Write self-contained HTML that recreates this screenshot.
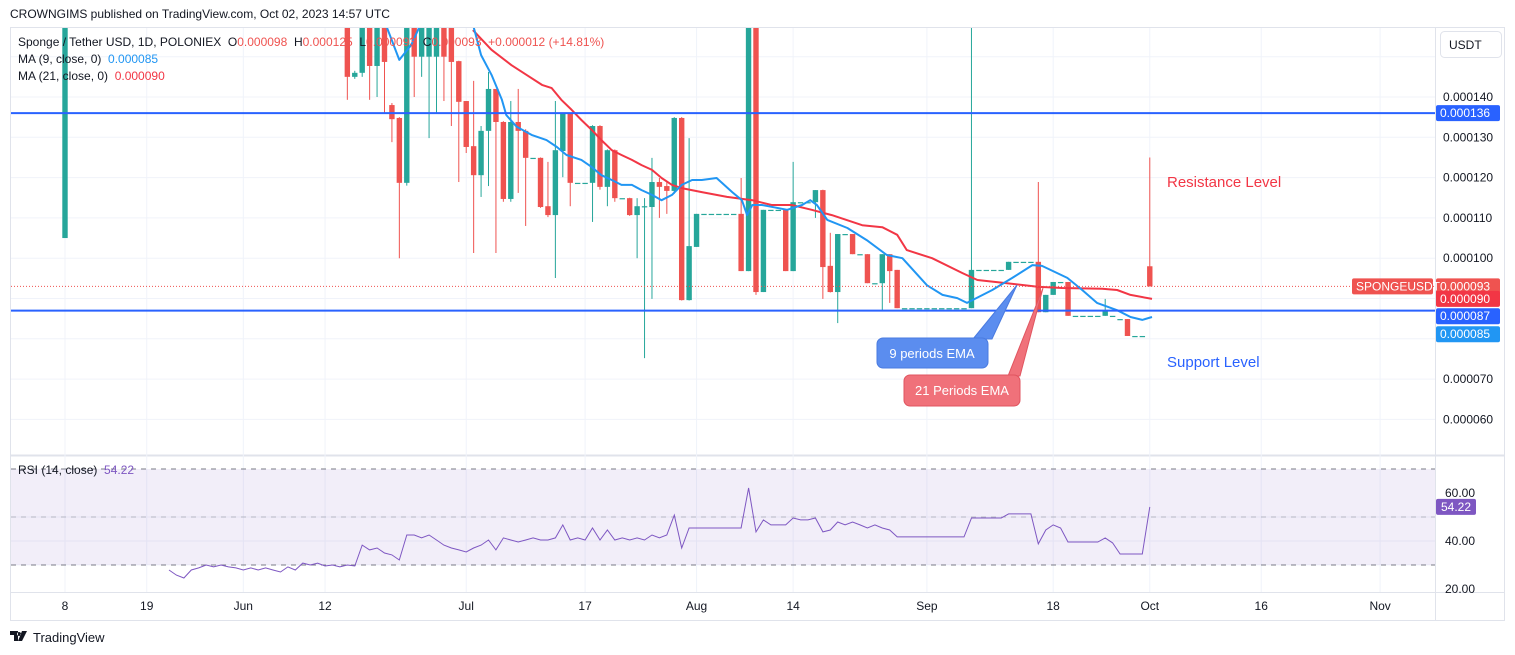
<!DOCTYPE html>
<html><head><meta charset="utf-8"><style>
body{margin:0;width:1515px;height:655px;background:#fff;overflow:hidden;font-family:"Liberation Sans",Arial,sans-serif}
svg{position:absolute;left:0;top:0}
text{font-family:"Liberation Sans",Arial,sans-serif}
</style></head><body>
<svg id="c" width="1515" height="655" viewBox="0 0 1515 655"></svg>
<script>
// ---- data (values in 1e-6 USDT) ----
const candleStartDay = 38;
const firstCandle = [0, 105, 160, 160, 105]; // day, open, close, high, low (May 8)
const opens = [160,145,146,160,147.7,160,138,134.8,118.7,160,150,150,150,160,158,148.9,139,127.8,120.6,131.6,142,133.8,114.7,133.8,131.6,124.9,124.9,112.9,110.7,126.6,135.8,118.7,118.7,118.7,132.8,117.7,126.8,114.9,114.9,110.7,112.9,112.7,118.9,117.9,116.7,134.8,89.6,102.8,111,111,111,111,111,111,96.8,160,91.6,112,112,112,96.8,113.9,113.9,113.9,116.9,98.1,91.6,106,106,101,101,93.8,93.8,101,97.1,87.6,87.6,87.6,87.6,87.6,87.6,87.6,87.6,87.6,87.6,97.1,97.1,97.1,97.1,97.1,99.1,99.1,99.1,99.1,86.6,90.9,94.1,94.1,85.7,85.7,85.7,85.7,85.7,85.7,84.9,84.9,80.7,80.7,98];
const closes = [145,146,160,147.7,160,148.7,134.5,118.7,160,150,160,160,160,150,148.7,138.8,127.6,120.6,131.6,142,133.8,114.7,133.8,131.6,124.9,124.9,112.7,110.7,126.8,135.8,118.7,118.7,118.7,132.8,117.7,126.8,114.9,114.9,110.7,112.9,112.9,118.9,117.7,116.7,134.8,89.6,103,111,111,111,111,111,111,96.8,160,91.6,112,112,112,96.8,113.9,113.9,113.9,116.9,97.8,91.6,106,106,101,101,93.8,93.8,101,96.8,87.6,87.6,87.6,87.6,87.6,87.6,87.6,87.6,87.6,87.6,97.1,97.1,97.1,97.1,97.1,99.1,99.1,99.1,99.1,86.6,90.9,94.1,94.1,85.7,85.7,85.7,85.7,85.7,86.9,85.7,84.9,80.7,80.7,80.7,93];
const highs = [160,146.5,160,160,160,160,138.5,135,160,160,160,160,160,160,160,149,139,144,132.8,146.2,142,134,139,142,132,124.9,125,123.9,139,135.8,136,118.7,118.7,133,133,127,127,114.9,115,114.9,114.9,124.9,119.9,119,135,135,129.8,111,111,111,111,111,111,119.9,160,160,112,112,112,112,123.9,113.9,113.9,116.9,117,106.3,106,106,106,101,101,93.8,101,101,97.1,87.6,87.6,87.6,87.6,87.6,87.6,87.6,87.6,87.6,160,97.1,97.1,97.1,97.1,99.1,99.1,99.1,99.1,118.9,90.9,94.1,94.1,94.1,85.7,85.7,85.7,85.7,89.9,85.7,84.9,84.9,80.7,80.7,125];
const lows = [139.3,144.5,145,139.3,140,136,128.8,100,118,140,145,129.8,136,139,132.8,118.9,126.1,101.3,115.2,117.9,101.3,114,114,116.2,108,124.9,112.5,110.2,95.1,120.1,112.9,118.7,118.7,109,117,112.9,114,114.9,110.5,100,75.2,89.9,110,111,116,89.5,89.5,102.8,111,111,111,111,111,96.8,96.8,90.9,91.6,112,112,96.8,96.8,113.9,113.9,110,89.9,91.5,83.9,106,101,101,93.8,93.8,86.9,88.9,87.6,87.6,87.6,87.6,87.6,87.6,87.6,87.6,87.6,87.6,87.6,97.1,97.1,97.1,97.1,97.1,99.1,99.1,99.1,86.6,86.6,90.9,94.1,85.7,85.7,85.7,85.7,85.7,85.7,85.7,84.9,80.7,80.7,80.7,93];
const ma9Days = [43.3,45,46.6,47.7,55,56,57.4,58.8,59.4,60.8,62.8,64.8,66.2,67.5,69.5,70.9,72.2,73.6,74.9,76.3,77.6,79,80.3,81.7,83,84.4,85.7,87.7,89.8,91.1,91.8,92.5,93.8,97.2,99.2,100.3,101.2,102.6,105.3,107.9,110.6,112.7,116,118.1,120.1,121.4,124.8,127.5,130.2,131.5,134.9,136.9,138.9,141.6,143.4,145,146.3];
const ma9Vals = [157.4,149.2,152.9,157.4,157.4,150.4,145.5,139.3,135.5,132.6,130.6,129.3,127.6,125.6,124.4,122.6,120.6,119.4,118.2,118.2,116.9,115.7,114.4,115.7,118.2,119.4,119.4,119.9,116.4,114.4,110.7,113.2,113.2,112,113.2,114.4,113.2,109.5,107.5,104.5,100.8,100,93.3,90.9,90.1,88.9,92.1,95.1,98.3,98.1,95.1,92.1,88.9,87.1,85.4,84.7,85.4];
const ma21Days = [54.9,57.4,60.1,62.1,64.2,65.5,66.8,68.2,69.5,70.9,72.2,73.6,74.9,76.3,77.6,79,80.3,81.7,83,85.7,89.1,92.5,95.1,97.8,100.5,103.2,107.3,110,112,113.3,116.7,120.8,122.8,126.8,130.9,134.2,139.6,141.6,143.4,146.3];
const ma21Vals = [156.6,151.7,147.9,145.5,143,142.2,139.3,136.8,134.3,131.8,129.3,126.8,125.6,124.4,123.1,121.9,119.9,118.2,117.4,116.4,115.2,114.4,113.2,113.2,112,110.7,108.2,107.7,105.8,102,100,96.3,94.6,93.8,92.9,92.6,92.4,92.1,90.9,89.9];
const rsiStartDay = 14;
const rsiVals = [27.9,25.8,24.6,27.9,28.8,30,29.2,30,29.2,28.8,27.9,28.8,27.9,28.8,27.9,27.1,29.2,27.9,30.8,30,30.8,29.6,30,29.2,30,29.6,
38.3,36.3,37.1,35,34.2,32.1,42.5,42.5,41.3,42.5,40.4,38.3,37.1,36.3,35.4,37.1,38.3,40.4,36.3,41.3,40.4,39.6,40.4,41.3,40.4,40.4,41.3,46.7,40.4,41.3,40.4,45.4,40.4,44.6,40.4,41.3,40.4,41.3,40.4,42.5,41.3,42.5,50.8,37.1,45.4,
45.4,45.4,45.4,45.4,45.4,45.4,45.4,
62.1,43.8,48.8,46.7,46.7,46.7,49.6,48.8,48.8,49.6,43.8,44.6,47.9,46.7,47.9,46.7,45.4,46.7,45.4,44.6,41.7,
41.7,41.7,41.7,41.7,41.7,41.7,41.7,41.7,41.7,
49.6,49.6,49.6,49.6,49.6,51.3,51.3,51.3,51.3,
38.8,44.6,46.7,45.4,39.6,39.6,39.6,39.6,39.6,41.3,39.2,34.6,34.6,34.6,34.6,54.2];
const priceTicks = [140,130,120,110,100,70,60];
const rsiTicks = [60,40,20];
const dateLabels = ["8","19","Jun","12","Jul","17","Aug","14","Sep","18","Oct","16","Nov"];
const dateDays = [0,11,24,35,54,70,85,98,116,133,146,161,177];
const resistance = 136, support = 87, lastPrice = 93;

// ---- scales ----
const X = d => 65 + d*7.43;
const Y = v => 97 + (140 - v)*4.03;
const RY = r => 493 + (60 - r)*2.4;
const NS = "http://www.w3.org/2000/svg";
const svg = document.getElementById('c');
function mk(tag, attrs, parent){const e=document.createElementNS(NS,tag);for(const k in attrs)e.setAttribute(k,attrs[k]);(parent||svg).appendChild(e);return e;}

const defs = mk('defs',{});
const cp = mk('clipPath',{id:'mainclip'},defs); mk('rect',{x:11,y:28,width:1424,height:427},cp);
const cp2 = mk('clipPath',{id:'rsiclip'},defs); mk('rect',{x:11,y:457,width:1424,height:135},cp2);

let t = mk('text',{x:10,y:18,'font-size':12,fill:'#131722'}); t.textContent='CROWNGIMS published on TradingView.com, Oct 02, 2023 14:57 UTC';
 

let fr = mk('rect',{x:10.5,y:27.5,width:1494,height:593,fill:'none',stroke:'#e0e3eb'});
 
mk('line',{x1:1435.5,y1:27,x2:1435.5,y2:620,stroke:'#e0e3eb'});
mk('line',{x1:10,y1:455.5,x2:1505,y2:455.5,stroke:'#e0e3eb',"stroke-width":2});
mk('line',{x1:10,y1:592.5,x2:1505,y2:592.5,stroke:'#e0e3eb'});

const grid = mk('g',{});  
dateDays.forEach(d=>{ mk('line',{x1:X(d),y1:28,x2:X(d),y2:592,stroke:'#f0f3fa'},grid); });
for(let v=60; v<=150; v+=10){ mk('line',{x1:11,y1:Y(v),x2:1435,y2:Y(v),stroke:'#f0f3fa'},grid); }
[50,40,30].forEach(r=>mk('line',{x1:11,y1:RY(r),x2:1435,y2:RY(r),stroke:'#f0f3fa'},grid));

const main = mk('g',{'clip-path':'url(#mainclip)'});
 

function candle(d,o,c,h,l){
  const up = c>=o, col = up?'#26a69a':'#ef5350';
  const g = mk('g',{},main);
   
  const x = X(d);
  mk('line',{x1:x,y1:Y(h),x2:x,y2:Y(l),stroke:col,'stroke-width':1},g);
  const top=Math.min(Y(o),Y(c)), hh=Math.max(1.2,Math.abs(Y(o)-Y(c)));
  mk('rect',{x:x-2.7,y:top,width:5.4,height:hh,fill:col},g);
}
candle(firstCandle[0],firstCandle[1],firstCandle[2],firstCandle[3],firstCandle[4]);
for(let i=0;i<opens.length;i++) candle(candleStartDay+i,opens[i],closes[i],highs[i],lows[i]);

function line(days, vals, col, name, parent, yf){
  let p=''; days.forEach((d,i)=>{p+=(i?'L':'M')+X(d).toFixed(1)+','+yf(vals[i]).toFixed(1);});
  const e = mk('path',{d:p,fill:'none',stroke:col,'stroke-width':2,'stroke-linejoin':'round'},parent);
   
}
line(ma21Days, ma21Vals, '#f23645', 'ma21-line', main, Y);
line(ma9Days, ma9Vals, '#2196f3', 'ma9-line', main, Y);

let rl = mk('line',{x1:11,y1:Y(resistance),x2:1435,y2:Y(resistance),stroke:'#2962ff','stroke-width':2});
 
let sl = mk('line',{x1:11,y1:Y(support),x2:1435,y2:Y(support),stroke:'#2962ff','stroke-width':2});
 
let pl = mk('line',{x1:11,y1:Y(lastPrice),x2:1435,y2:Y(lastPrice),stroke:'#ef5350','stroke-width':1,'stroke-dasharray':'1 2'});
 

const rsiG = mk('g',{'clip-path':'url(#rsiclip)'});
 
mk('rect',{x:11,y:RY(70),width:1424,height:RY(30)-RY(70),fill:'#7e57c2','fill-opacity':0.1},rsiG);
[70,50,30].forEach(r=>mk('line',{x1:11,y1:RY(r),x2:1435,y2:RY(r),stroke:r==50?'#9598a1':'#787b86','stroke-dasharray':'5 5','stroke-opacity':r==50?0.6:1},rsiG));
const rsiDays = rsiVals.map((v,i)=>rsiStartDay+i);
let rp=''; rsiVals.forEach((v,i)=>{rp+=(i?'L':'M')+X(rsiDays[i]).toFixed(1)+','+RY(v).toFixed(1);});
let rl2 = mk('path',{d:rp,fill:'none',stroke:'#7e57c2','stroke-width':1},rsiG);
 

function txt(x,y,s,col,size,name,anchor){const e=mk('text',{x:x,y:y,'font-size':size||12,fill:col||'#131722','text-anchor':anchor||'start'});e.textContent=s;return e;}
const lg = mk('text',{x:18,y:46,'font-size':12,fill:'#131722'});
 
lg.innerHTML='Sponge / Tether USD, 1D, POLONIEX&#160; O<tspan fill="#ef5350">0.000098</tspan>&#160; H<tspan fill="#ef5350">0.000125</tspan>&#160; L<tspan fill="#ef5350">0.000093</tspan>&#160; C<tspan fill="#ef5350">0.000093</tspan>&#160; <tspan fill="#ef5350">+0.000012 (+14.81%)</tspan>';
const m9 = mk('text',{x:18,y:63,'font-size':12,fill:'#131722'}); m9.innerHTML='MA (9, close, 0)&#160; <tspan fill="#2196f3">0.000085</tspan>';
 
const m21 = mk('text',{x:18,y:80,'font-size':12,fill:'#131722'}); m21.innerHTML='MA (21, close, 0)&#160; <tspan fill="#f23645">0.000090</tspan>';
 
const rlg = mk('text',{x:18,y:474,'font-size':12,fill:'#131722'}); rlg.innerHTML='RSI (14, close)&#160; <tspan fill="#7e57c2">54.22</tspan>';
 

txt(1167,187,'Resistance Level','#f23645',15,'resistance-label');
txt(1167,367,'Support Level','#2962ff',15,'support-label');
const c1 = mk('g',{});  
mk('path',{d:'M973,339 L1017,285 L992,339 Z',fill:'#5b8def',stroke:'#4a7be0'},c1);
mk('rect',{x:877,y:338,width:111,height:30,rx:6,fill:'#5b8def',stroke:'#4a7be0'},c1);
let tt=mk('text',{x:932,y:358,'font-size':13,fill:'#fff','text-anchor':'middle'},c1); tt.textContent='9 periods EMA';
const c2 = mk('g',{});  
mk('path',{d:'M1008,376 L1043,288 L1020,376 Z',fill:'#f0717a',stroke:'#e05560'},c2);
mk('rect',{x:904,y:375,width:116,height:31,rx:6,fill:'#f0717a',stroke:'#e05560'},c2);
tt=mk('text',{x:962,y:395,'font-size':13,fill:'#fff','text-anchor':'middle'},c2); tt.textContent='21 Periods EMA';

const ax = mk('g',{});  
priceTicks.forEach(v=>{ const e=mk('text',{x:1443,y:Y(v)+4,'font-size':12,fill:'#131722'},ax); e.textContent='0.000'+Math.round(v).toString().padStart(3,'0'); });
const ub = mk('rect',{x:1440.5,y:31.5,width:61,height:26,rx:4,fill:'#fff',stroke:'#e0e3eb'});  
txt(1449,49,'USDT','#131722',12,'currency-label');
function tag(v,label,col,name){ const y=Y(v); mk('rect',{x:1436,y:y-8,width:64,height:16,rx:2,fill:col}); txt(1440,y+4,label,'#fff',12,name); }
tag(136,'0.000136','#2962ff','resistance-price-tag');
tag(93,'0.000093','#ef5350','last-price-tag');
tag(89.9,'0.000090','#f23645','ma21-price-tag');
tag(85.6,'0.000087','#2962ff','support-price-tag');
const y85=Y(85.6)+18; mk('rect',{x:1436,y:y85-8,width:64,height:16,rx:2,fill:'#2196f3'}); txt(1440,y85+4,'0.000085','#fff',12,'ma9-price-tag');
mk('rect',{x:1352,y:Y(93)-8,width:81,height:16,rx:2,fill:'#ef5350'}); txt(1356,Y(93)+4,'SPONGEUSDT','#fff',12,'symbol-tag');
rsiTicks.forEach(r=>{ txt(1445,RY(r)+4,r.toFixed(2),'#131722',12,'rsi-tick'); });
mk('rect',{x:1436,y:RY(54.22)-8,width:40,height:16,rx:2,fill:'#7e57c2'}); txt(1441,RY(54.22)+4,'54.22','#fff',12,'rsi-value-tag');
dateLabels.forEach((s,i)=>{ txt(X(dateDays[i]),610,s,'#131722',12,'date-label','middle'); });
const lo = mk('g',{});  
mk('path',{d:'M10,631 h8 v10 h-4 v-6 h-4 Z M19,632 a2,2 0 1 0 0.1,0 Z M22,631 h5 l-5,10 h-4 Z',fill:'#131722'},lo);
tt=mk('text',{x:33,y:642,'font-size':13,fill:'#131722'},lo); tt.textContent='TradingView';
</script>
</body></html>
